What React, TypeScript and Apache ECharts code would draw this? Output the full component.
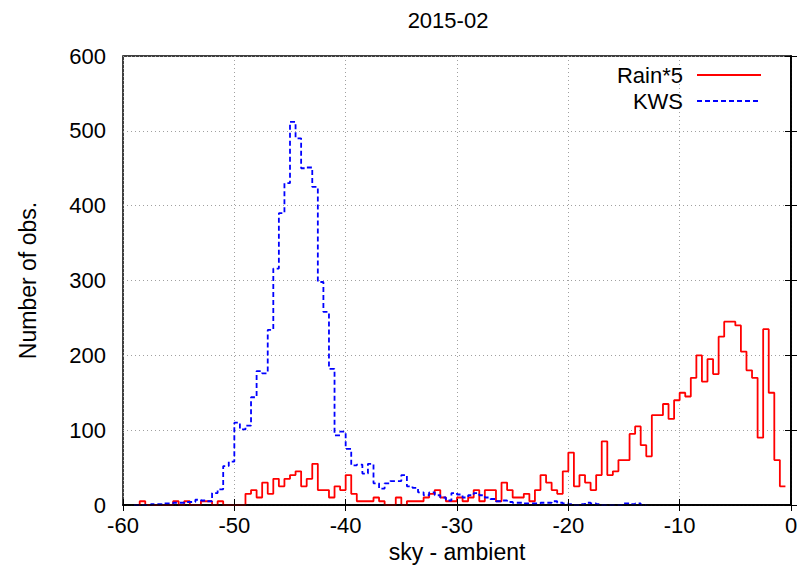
import React, { useEffect, useRef } from "react";
import * as echarts from "echarts";

// Histogram bins: left edge of first bin and bin width
const BIN_START = -59;
const BIN_WIDTH = 0.5;

// Rain*5 counts per bin, bins starting at -59, -58.5, ... , -1
const rainValues = [
  0, 5, 0, 0, 0, 0, 0, 5, 0, 5,
  0, 0, 5, 5, 0, 5, 0, 0, 0, 0,
  15, 20, 10, 30, 15, 35, 25, 35, 40, 45,
  25, 35, 55, 20, 20, 10, 25, 20, 40, 15,
  5, 5, 5, 10, 5, 0, 0, 10, 0, 5,
  5, 5, 10, 15, 20, 10, 5, 5, 10, 5,
  10, 20, 5, 20, 20, 5, 30, 20, 10, 10,
  15, 5, 20, 40, 30, 20, 15, 45, 70, 25,
  40, 30, 20, 40, 85, 40, 45, 60, 60, 95,
  105, 80, 65, 120, 120, 135, 115, 140, 150, 145,
  170, 200, 165, 195, 175, 225, 245, 245, 240, 205,
  180, 170, 90, 235, 150, 60, 25,
];

// KWS counts per bin, bins starting at -59, -58.5, ... , -13.5
const kwsValues = [
  0, 0, 0, 1, 1, 2, 2, 3, 3, 4,
  4, 7, 6, 5, 16, 21, 52, 58, 110, 101,
  106, 144, 179, 176, 234, 316, 390, 430, 512, 490,
  450, 451, 425, 298, 258, 182, 93, 98, 75, 53,
  54, 42, 55, 29, 22, 29, 32, 32, 40, 25,
  23, 17, 13, 17, 13, 10, 6, 16, 14, 10,
  13, 16, 13, 10, 8, 5, 6, 4, 3, 3,
  2, 2, 2, 3, 3, 5, 3, 2, 1, 0,
  1, 3, 2, 1, 0, 0, 0, 0, 2, 1,
  2, 0,
];

const X_MIN = -60;
const X_MAX = 0;
const X_INTERVAL = 10;
const Y_MIN = 0;
const Y_MAX = 600;
const Y_INTERVAL = 100;

const seriesNames = ["Rain*5", "KWS"];

function toSteps(values: number[]): number[][] {
  const pts = values.map((v, i) => [BIN_START + i * BIN_WIDTH, v]);
  pts.push([BIN_START + values.length * BIN_WIDTH, values[values.length - 1]]);
  return pts;
}

const FONT = "'Liberation Sans', Arial, Helvetica, sans-serif";
const FS = 22;
const NAME_FS = 23;

export default function App() {
  const ref = useRef<HTMLDivElement>(null);

  useEffect(() => {
    if (!ref.current) return;
    const chart = echarts.init(ref.current, undefined, { renderer: "svg" });
    const gridLine = { show: true, lineStyle: { color: "#a0a0a0", width: 1, type: [1, 3] as any } };
    const tick = { show: true, inside: true, length: 6, lineStyle: { color: "#000", width: 1 } };
    const axisLine = { show: true, lineStyle: { color: "#000", width: 1.5 } };
    chart.setOption({
      animation: false,
      textStyle: { fontFamily: FONT },
      grid: {
        left: 123,
        right: 13,
        top: 56,
        bottom: 72,
        show: true,
        borderColor: "#000",
        borderWidth: 1.5,
        backgroundColor: "transparent",
      },
      graphic: [
        {
          type: "text",
          x: 448,
          y: 20,
          style: {
            text: "2015-02",
            fontSize: FS,
            fontFamily: FONT,
            fill: "#000",
            textAlign: "center",
            align: "center",
            textVerticalAlign: "middle",
            verticalAlign: "middle",
          },
        },
      ],
      legend: {
        orient: "vertical",
        right: 42,
        top: 64,
        padding: 0,
        align: "right",
        itemWidth: 64,
        itemHeight: 21,
        itemGap: 4,
        itemStyle: { opacity: 0 },
        textStyle: { fontSize: FS, color: "#000", fontFamily: FONT, padding: [0, 9, 0, 0] },
        data: seriesNames,
      },
      xAxis: [
        {
          type: "value",
          min: X_MIN,
          max: X_MAX,
          interval: X_INTERVAL,
          position: "bottom",
          z: 3,
          axisLine,
          axisTick: tick,
          splitLine: { show: false },
          axisLabel: { fontSize: FS, color: "#000", margin: 9, showMinLabel: true, showMaxLabel: true, fontFamily: FONT },
          name: "sky - ambient",
          nameLocation: "middle",
          nameGap: 32,
          nameTextStyle: { fontSize: NAME_FS, color: "#000", fontFamily: FONT },
        },
        {
          type: "value",
          min: X_MIN,
          max: X_MAX,
          interval: X_INTERVAL,
          position: "top",
          z: 0,
          axisLine,
          axisTick: tick,
          splitLine: gridLine,
          axisLabel: { show: false },
        },
      ],
      yAxis: [
        {
          type: "value",
          min: Y_MIN,
          max: Y_MAX,
          interval: Y_INTERVAL,
          position: "left",
          axisLine,
          axisTick: tick,
          splitLine: gridLine,
          axisLabel: { fontSize: FS, color: "#000", margin: 17, showMinLabel: true, showMaxLabel: true, fontFamily: FONT },
          name: "Number of obs.",
          nameLocation: "middle",
          nameRotate: 90,
          nameGap: 84,
          nameTextStyle: { fontSize: NAME_FS, color: "#000", fontFamily: FONT },
        },
        {
          type: "value",
          min: Y_MIN,
          max: Y_MAX,
          interval: Y_INTERVAL,
          position: "right",
          axisLine,
          axisTick: tick,
          splitLine: { show: false },
          axisLabel: { show: false },
        },
      ],
      series: [
        {
          name: seriesNames[0],
          type: "line",
          step: "end",
          symbol: "none",
          xAxisIndex: 0,
          yAxisIndex: 0,
          data: toSteps(rainValues),
          lineStyle: { color: "#ff0000", width: 1.8 },
          itemStyle: { color: "#ff0000" },
          z: 2,
        },
        {
          name: seriesNames[1],
          type: "line",
          step: "end",
          symbol: "none",
          xAxisIndex: 0,
          yAxisIndex: 0,
          data: toSteps(kwsValues),
          lineStyle: { color: "#0000ff", width: 1.8, type: [5, 3] as any },
          itemStyle: { color: "#0000ff" },
          z: 2,
        },
      ],
    });
    return () => chart.dispose();
  }, []);

  return (
    <div
      ref={ref}
      style={{ position: "absolute", left: 0, top: 0, width: 804, height: 577, background: "#fff" }}
    />
  );
}
